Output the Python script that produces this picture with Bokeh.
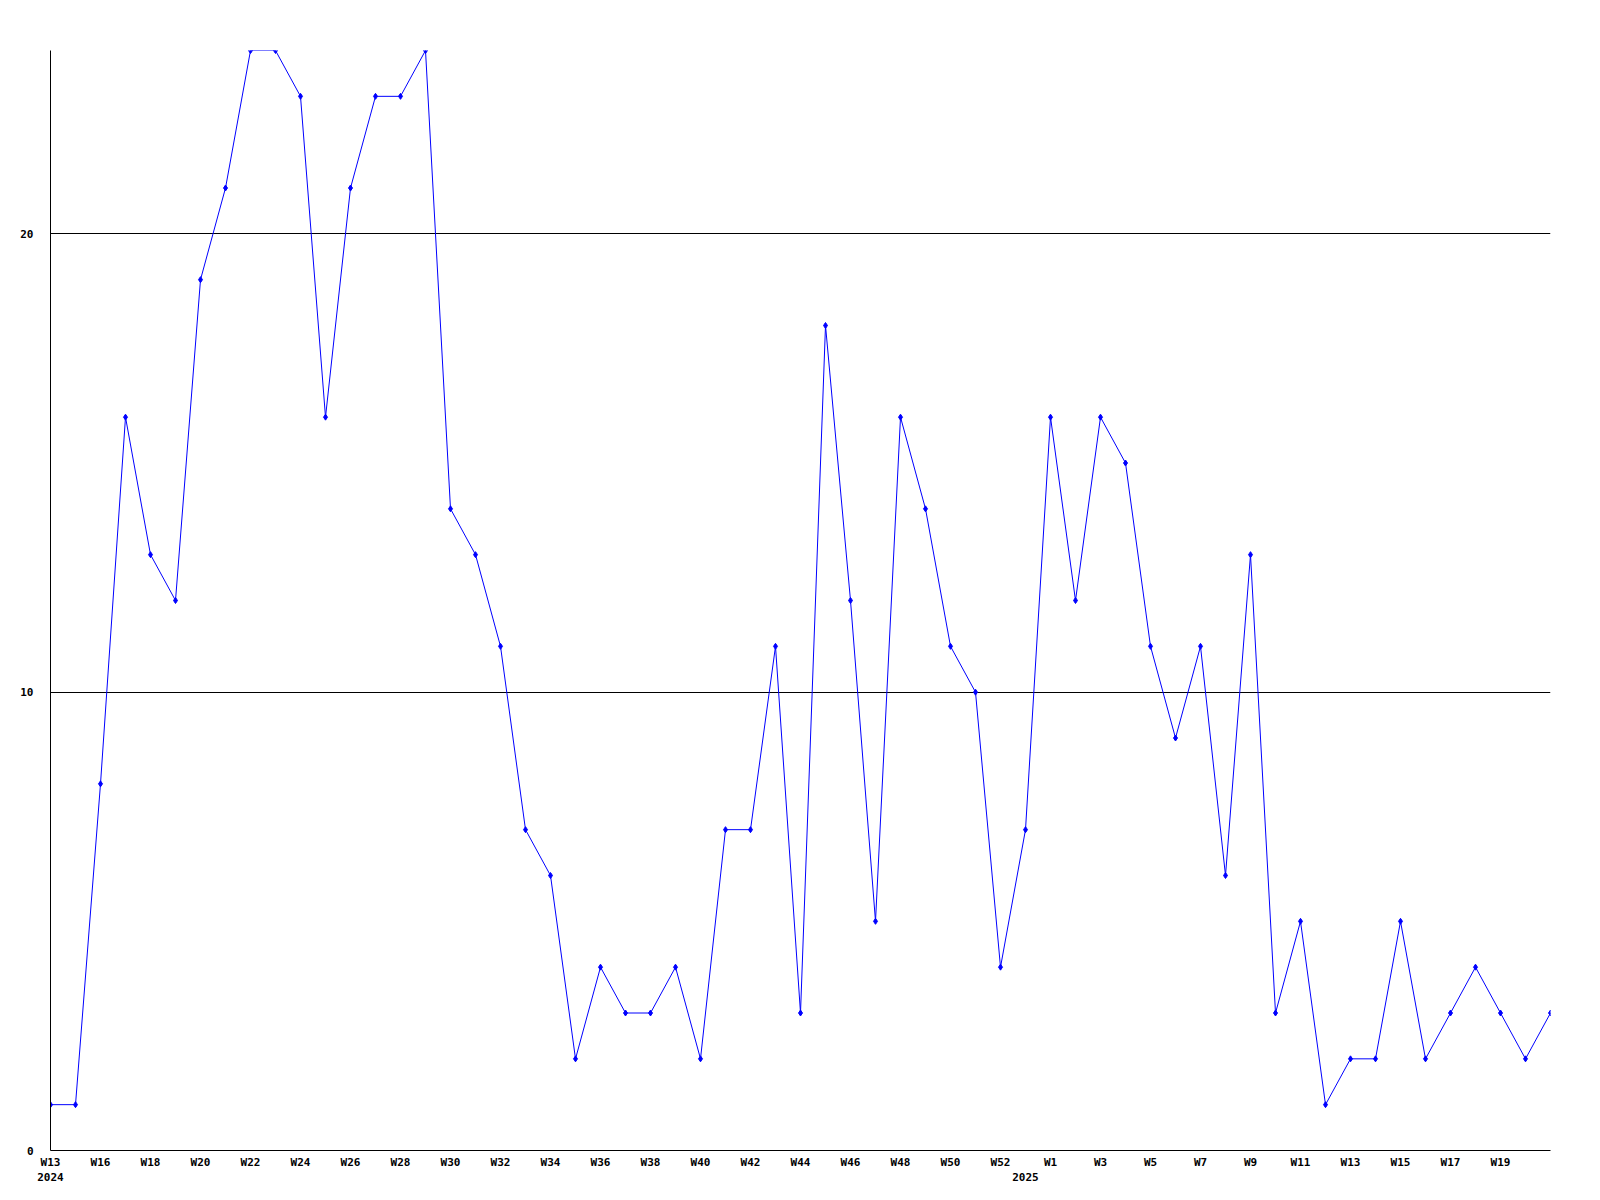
from bokeh.plotting import figure
from bokeh.models import FixedTicker, LinearAxis, Range1d
from bokeh.embed import file_html
from bokeh.resources import INLINE

# data: one value per week, starting 2024 W13
values = [1, 1, 8, 16, 13, 12, 19, 21, 24, 24, 23, 16, 21, 23, 23, 24, 14, 13, 11, 7,
          6, 2, 4, 3, 3, 4, 2, 7, 7, 11, 3, 18, 12, 5, 16, 14, 11, 10, 4, 7,
          16, 12, 16, 15, 11, 9, 11, 6, 13, 3, 5, 1, 2, 2, 5, 2, 3, 4, 3, 2, 3]
idx = list(range(len(values)))

tick_pos = list(range(0, 60, 2))
tick_labels = ["W13", "W16", "W18", "W20", "W22", "W24", "W26", "W28", "W30", "W32",
               "W34", "W36", "W38", "W40", "W42", "W44", "W46", "W48", "W50", "W52",
               "W1", "W3", "W5", "W7", "W9", "W11", "W13", "W15", "W17", "W19"]
year_pos = [0, 39]
year_labels = ["2024", "2025"]

y_ticks = [0, 10, 20]

FONT = "DejaVu Sans Mono"

p = figure(frame_width=1500, frame_height=1100, output_backend="svg", toolbar_location=None,
           x_range=Range1d(0, 60), y_range=Range1d(0, 24),
           min_border_left=50, min_border_top=50, min_border_right=30, min_border_bottom=10,
           x_axis_location=None)
p.outline_line_color = None
p.background_fill_color = "white"
p.border_fill_color = "white"

# main x axis
xa = LinearAxis(ticker=FixedTicker(ticks=tick_pos),
                major_label_overrides={t: l for t, l in zip(tick_pos, tick_labels)})
xa.axis_line_color = "black"
xa.axis_line_width = 1
xa.major_tick_line_color = None
xa.minor_tick_line_color = None
xa.major_label_standoff = -1
xa.major_label_text_font = FONT
xa.major_label_text_font_style = "bold"
xa.major_label_text_font_size = "11px"
xa.major_label_text_color = "black"
p.add_layout(xa, "below")

# year axis
ya2 = LinearAxis(ticker=FixedTicker(ticks=year_pos),
                 major_label_overrides={t: l for t, l in zip(year_pos, year_labels)})
ya2.axis_line_color = None
ya2.major_tick_line_color = None
ya2.minor_tick_line_color = None
ya2.major_label_standoff = -5
ya2.major_label_text_font = FONT
ya2.major_label_text_font_style = "bold"
ya2.major_label_text_font_size = "11px"
ya2.major_label_text_color = "black"
p.add_layout(ya2, "below")

p.yaxis.ticker = FixedTicker(ticks=y_ticks)
p.yaxis.axis_line_color = "black"
p.yaxis.major_tick_line_color = None
p.yaxis.minor_tick_line_color = None
p.yaxis.major_label_standoff = 11
p.yaxis.major_label_text_font = FONT
p.yaxis.major_label_text_font_style = "bold"
p.yaxis.major_label_text_font_size = "11px"
p.yaxis.major_label_text_color = "black"

p.xgrid.visible = False
p.ygrid.ticker = FixedTicker(ticks=[10, 20])
p.ygrid.grid_line_color = "black"
p.ygrid.grid_line_width = 1

p.line(idx, values, line_color="#0000ff", line_width=1)
p.scatter(idx, values, marker="diamond", size=6, fill_color="#0000ff", line_color="#0000ff")

open("out.html", "w").write(file_html(p, INLINE))
